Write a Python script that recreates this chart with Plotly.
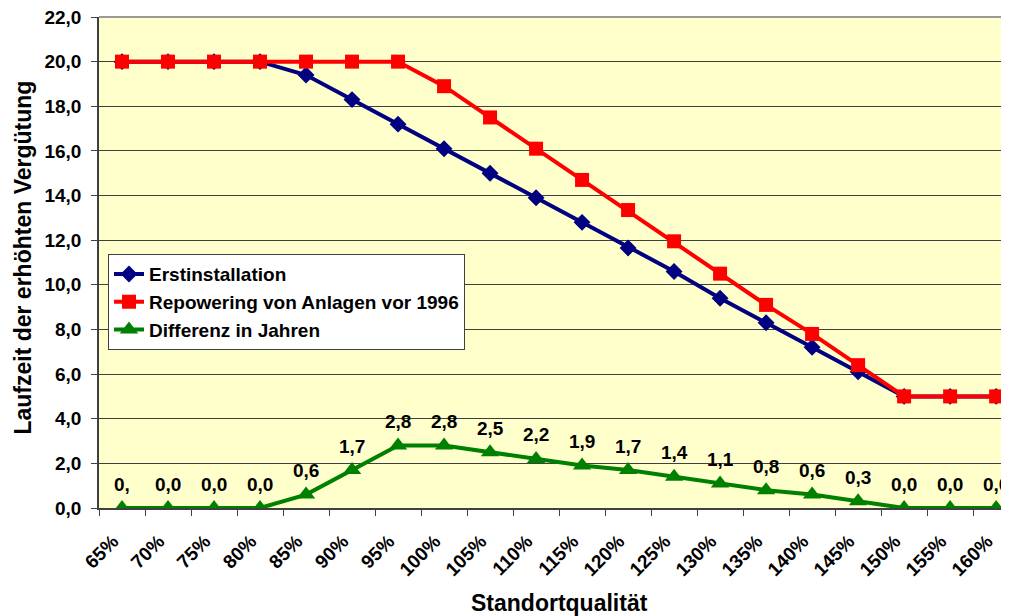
import plotly.graph_objects as go

categories = ["65%", "70%", "75%", "80%", "85%", "90%", "95%", "100%", "105%", "110%",
              "115%", "120%", "125%", "130%", "135%", "140%", "145%", "150%", "155%", "160%"]
erstinstallation = [20.0, 20.0, 20.0, 20.0, 19.4, 18.3, 17.2, 16.1, 15.0, 13.9,
                    12.8, 11.65, 10.6, 9.4, 8.3, 7.2, 6.1, 5.0, 5.0, 5.0]
repowering = [20.0, 20.0, 20.0, 20.0, 20.0, 20.0, 20.0, 18.9, 17.5, 16.1,
              14.7, 13.35, 11.95, 10.5, 9.1, 7.8, 6.4, 5.0, 5.0, 5.0]
differenz = [0.0, 0.0, 0.0, 0.0, 0.6, 1.7, 2.8, 2.8, 2.5, 2.2,
             1.9, 1.7, 1.4, 1.1, 0.8, 0.6, 0.3, 0.0, 0.0, 0.0]
diff_labels = ["0,", "0,0", "0,0", "0,0", "0,6", "1,7", "2,8", "2,8", "2,5", "2,2",
               "1,9", "1,7", "1,4", "1,1", "0,8", "0,6", "0,3", "0,0", "0,0", "0,0"]
y_ticks = [0, 2, 4, 6, 8, 10, 12, 14, 16, 18, 20, 22]
y_ticktext = ["0,0", "2,0", "4,0", "6,0", "8,0", "10,0", "12,0", "14,0", "16,0", "18,0", "20,0", "22,0"]

FONT = "Liberation Sans, Arial, sans-serif"

fig = go.Figure()
fig.add_trace(go.Scatter(x=categories, y=erstinstallation, name="Erstinstallation",
                         mode="lines+markers", line=dict(color="#000080", width=4),
                         marker=dict(symbol="diamond", size=13, color="#000080")))
fig.add_trace(go.Scatter(x=categories, y=repowering, name="Repowering von Anlagen vor 1996",
                         mode="lines+markers", line=dict(color="#FF0000", width=4),
                         marker=dict(symbol="square", size=14, color="#FF0000")))
fig.add_trace(go.Scatter(x=categories, y=differenz, name="Differenz in Jahren",
                         mode="lines+markers", line=dict(color="#008000", width=4),
                         marker=dict(symbol="triangle-up", size=16, color="#008000")))

annotations = []
for c, v, t in zip(categories, differenz, diff_labels):
    annotations.append(dict(x=c, y=v, xref="x", yref="y", text=t, showarrow=False,
                            yshift=24, font=dict(family=FONT, size=19, color="black", weight="bold"),
                            xanchor="center", yanchor="middle"))
annotations.append(dict(x=-0.0835, y=0.51, xref="paper", yref="paper",
                        text="Laufzeit der erhöhten Vergütung", showarrow=False,
                        textangle=-90, font=dict(family=FONT, size=23, color="black", weight="bold"),
                        xanchor="center", yanchor="middle"))
annotations.append(dict(x=0.506, y=-0.1935, xref="paper", yref="paper",
                        text="Standortqualität", showarrow=False,
                        font=dict(family=FONT, size=23, color="black", weight="bold"),
                        xanchor="center", yanchor="middle"))

# page body has an 8px default margin, so the figure is offset by 8px
fig.update_layout(
    width=1001, height=608,
    margin=dict(l=91, r=0, t=9, b=108, autoexpand=False),
    paper_bgcolor="white", plot_bgcolor="#FFFFCC",
    font=dict(family=FONT, size=19, color="black", weight="bold"),
    showlegend=True,
    legend=dict(x=0.0099, y=0.517, xanchor="left", yanchor="top",
                bgcolor="white", bordercolor="#404040", borderwidth=1,
                font=dict(family=FONT, size=19, color="black", weight="bold"),
                tracegroupgap=0),
    annotations=annotations,
    xaxis=dict(type="category", range=[-0.5, 19.28], tickson="boundaries",
               ticks="outside", ticklen=6, tickcolor="#404040", tickangle=-45,
               showgrid=False, showline=True, linecolor="#404040", linewidth=1.5,
               tickfont=dict(family=FONT, size=19, color="black", weight="bold"),
               ticklabelshift=-9, ticklabelstandoff=13,
               zeroline=False, automargin=False),
    yaxis=dict(range=[0, 22], tickvals=y_ticks, ticktext=y_ticktext,
               ticks="outside", ticklen=6, tickcolor="#404040",
               showgrid=True, gridcolor="#404040", gridwidth=1,
               showline=True, linecolor="#404040", linewidth=1.5,
               tickfont=dict(family=FONT, size=19, color="black", weight="bold"),
               ticklabelstandoff=6, ticklabeloverflow="allow",
               zeroline=False, automargin=False),
    shapes=[dict(type="line", xref="paper", yref="paper", x0=0, x1=1, y0=1, y1=1,
                 line=dict(color="#999999", width=2))],
)

fig.write_html("out.html")
